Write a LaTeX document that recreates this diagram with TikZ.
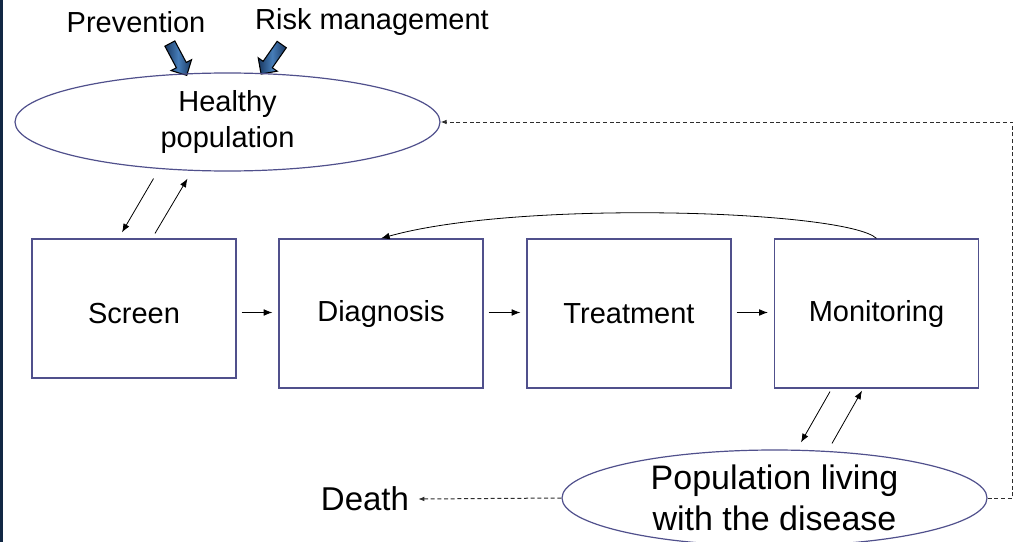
\documentclass[tikz,border=0pt]{standalone}
\usepackage{fontspec}
\setmainfont{Liberation Sans}
\usetikzlibrary{shapes.geometric,shapes.arrows,arrows.meta}
\definecolor{edgeblue}{RGB}{80,80,140}
\definecolor{slidenavy}{RGB}{18,40,68}
\definecolor{arrowdark}{RGB}{25,55,95}
\definecolor{arrowlight}{RGB}{70,125,185}
\definecolor{dashgray}{RGB}{45,45,45}
\tikzset{
  stagebox/.style={draw=edgeblue, line width=0.9pt, minimum width=153pt,
    minimum height=111.75pt, inner sep=0pt, font=\fontsize{21.75}{26}\selectfont},
  popellipse/.style={ellipse, draw=edgeblue, line width=0.9pt, inner sep=0pt,
    align=center},
  flow/.style={-{Latex[length=6.5pt,width=5pt]}, line width=0.6pt},
  backflow/.style={-{Latex[length=4.5pt,width=3.5pt]}, line width=0.75pt,
    draw=dashgray, dash pattern=on 3pt off 2pt},
  blockarrow/.style={single arrow, draw=black, line width=0.8pt, inner xsep=0pt,
    inner ysep=3.8pt, minimum height=27pt, single arrow head extend=4.5pt,
    single arrow tip angle=90, left color=arrowdark, right color=arrowdark,
    middle color=arrowlight},
  plainlabel/.style={inner sep=0pt, font=\fontsize{21.75}{26}\selectfont}
}
\begin{document}
\begin{tikzpicture}[x=0.75pt, y=-0.75pt]
    \useasboundingbox (0,0) rectangle (1017,542);
    \fill[slidenavy] (0,0) rectangle (3,542);

    \node[plainlabel] (prev) at (136,22) {Prevention};
    \node[plainlabel] (risk) at (372,22) {Risk management};
    \node[blockarrow, rotate=-62] (prevarrow) at (177,57) {};
    \node[blockarrow, rotate=-125] (riskarrow) at (273,57) {};

    \node[popellipse, minimum width=318.75pt, minimum height=73.5pt,
      font=\fontsize{21.75}{26.5}\selectfont] (healthy) at (227.5,122)
      {Healthy\\population};

    \node[stagebox, minimum height=104.25pt, text height=23pt, text depth=0pt]
      (screen) at (134,308.5) {Screen};
    \node[stagebox] (diag) at (381,313.5) {Diagnosis};
    \node[stagebox] (treat) at (629,313.5) {Treatment};
    \node[stagebox] (monit) at (876.5,313.5) {Monitoring};

    \node[popellipse, minimum width=318.75pt, minimum height=72pt,
      font=\fontsize{25.5}{30.5}\selectfont] (living) at (774.5,498)
      {Population living\\with the disease};
    \node[inner sep=0pt, font=\fontsize{24.75}{29}\selectfont] (death)
      at (365,499) {Death};

    \draw[flow] ([shift={(-74,7)}]healthy.south)
      -- ([shift={(-12,-6)}]screen.north);
    \draw[flow] ([shift={(21,-5)}]screen.north)
      -- ([shift={(-40,7)}]healthy.south);

    \draw[flow] ([shift={(5,4)}]screen.east) -- ([shift={(-6,-1)}]diag.west);
    \draw[flow] ([shift={(5,-1)}]diag.east) -- ([shift={(-6,-1)}]treat.west);
    \draw[flow] ([shift={(5,-1)}]treat.east) -- ([shift={(-6,-1)}]monit.west);

    \draw[flow] (monit.north)
      .. controls +(-30,-28) and +(139,-39) .. (diag.north);

    \draw[flow] ([shift={(-46.5,3)}]monit.south)
      -- ([shift={(26.5,-7)}]living.north);
    \draw[flow] ([shift={(57.5,-6)}]living.north)
      -- ([shift={(-14.5,2)}]monit.south);

    \draw[backflow] (living.east) -- ++(25,0) |- (healthy.east);
    \draw[backflow] (living.west) -- ([shift={(9,0)}]death.east);
\end{tikzpicture}
\end{document}
